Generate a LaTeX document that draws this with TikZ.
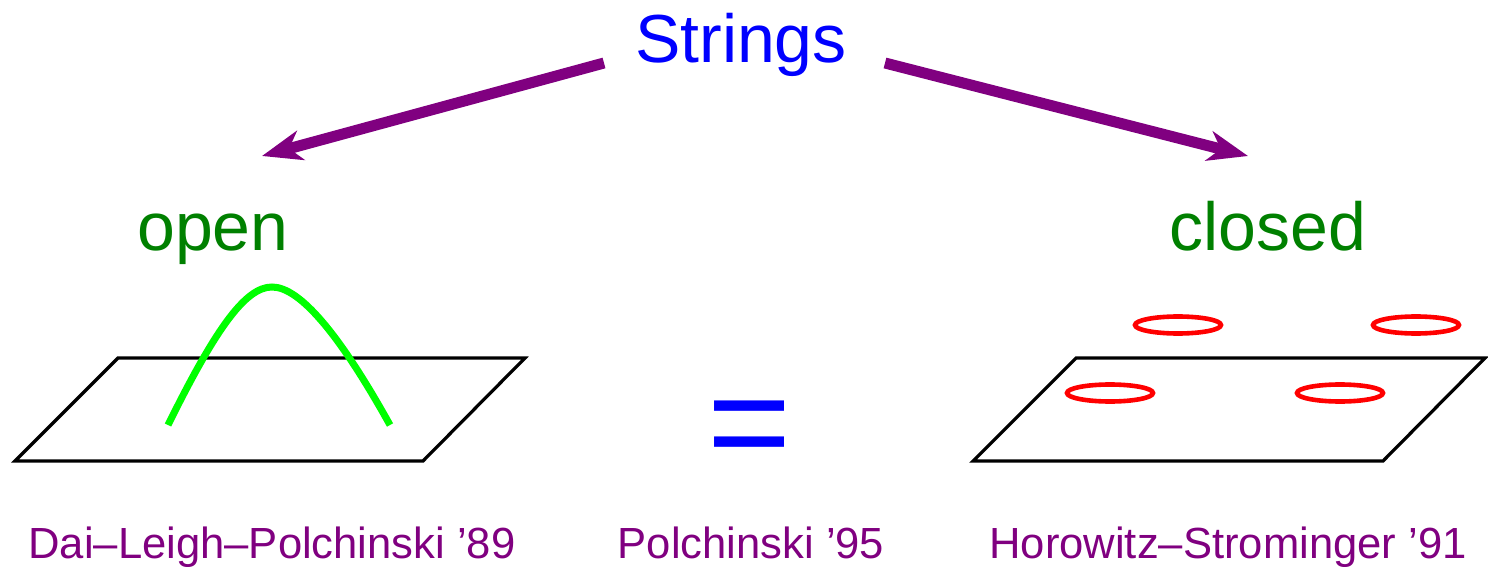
\documentclass[tikz,border=0pt]{standalone}
\usepackage{fontspec}
\setmainfont{Liberation Sans}
\usetikzlibrary{arrows.meta}
\definecolor{mypurple}{RGB}{128,0,128}
\definecolor{mygreen}{RGB}{0,128,0}
\definecolor{brightgreen}{RGB}{0,255,0}
\definecolor{myblue}{RGB}{0,0,255}
\definecolor{myred}{RGB}{255,0,0}
\tikzset{
  bigtext/.style={font=\fontsize{34}{40}\selectfont, anchor=base, inner sep=0pt},
  reftext/.style={font=\fontsize{21.8}{26}\selectfont, anchor=base, inner sep=0pt, text=mypurple},
  bigarrow/.style={draw=mypurple, line width=5.5pt, -{Stealth[length=20pt, width=15pt, inset=6pt]}},
  plane/.style={draw=black, line width=1.6pt, line join=miter},
  loop/.style={draw=myred, line width=2.3pt},
}
\begin{document}
\begin{tikzpicture}[x=0.5pt,y=-0.5pt]
\useasboundingbox (0,0) rectangle (1488,567);
% titles
\node[bigtext, text=myblue] (strings) at (741,63) {Strings};
\node[bigtext, text=mygreen] (open) at (213,250) {open};
\node[bigtext, text=mygreen] (closed) at (1268,250) {closed};
% arrows
\coordinate (a1s) at (604,63);
\coordinate (a1e) at (262,156);
\coordinate (a2s) at (885,63);
\coordinate (a2e) at (1248,156);
\draw[bigarrow] (a1s) -- (a1e);
\draw[bigarrow] (a2s) -- (a2e);
% left plane with open string
\draw[plane] (15,461) -- (118,358) -- (525,358) -- (423,461) -- cycle;
\draw[draw=brightgreen, line width=3.5pt] (168,425) .. controls (215,330) and (245,287) .. (272,287) .. controls (300,287) and (340,335) .. (390,425);
% right plane with closed strings
\draw[plane] (973,461) -- (1076,358) -- (1485,358) -- (1383,461) -- cycle;
\draw[loop] (1178,325) ellipse [x radius=43, y radius=8.5];
\draw[loop] (1416,325) ellipse [x radius=43, y radius=8.5];
\draw[loop] (1110,393) ellipse [x radius=43, y radius=8.5];
\draw[loop] (1340,393) ellipse [x radius=43, y radius=8.5];
% equal sign
\node[font=\fontsize{72}{80}\selectfont, anchor=base, inner sep=0pt, text=myblue] (eq) at (750,471) {=};
% references
\node[reftext] (dlp) at (272,558) {Dai–Leigh–Polchinski ’89};
\node[reftext] (pol) at (751,558) {Polchinski ’95};
\node[reftext] (hs) at (1228,558) {Horowitz–Strominger ’91};
\end{tikzpicture}
\end{document}
